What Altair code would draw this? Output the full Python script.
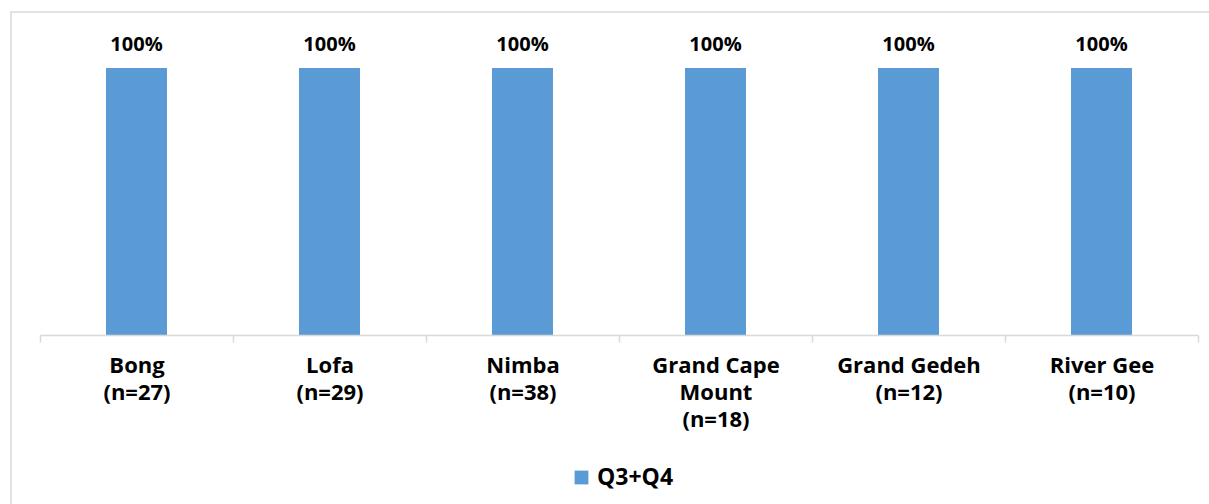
import altair as alt
import pandas as pd

categories = ["Bong|(n=27)", "Lofa|(n=29)", "Nimba|(n=38)", "Grand Cape|Mount|(n=18)", "Grand Gedeh|(n=12)", "River Gee|(n=10)"]
values = [100, 100, 100, 100, 100, 100]
labels = ["100%", "100%", "100%", "100%", "100%", "100%"]
series = "Q3+Q4"

df = pd.DataFrame({"cat": categories, "val": values, "lab": labels, "series": [series] * len(categories)})

FONT = "Open Sans"
BLUE = "#5B9BD5"
GRID = "#D9D9D9"

x = alt.X("cat:N", sort=categories, title=None,
          scale=alt.Scale(paddingInner=0, paddingOuter=0),
          axis=alt.Axis(labelExpr="split(datum.label, '|')", labelAngle=0,
                        labelFont=FONT, labelFontSize=22, labelFontWeight="bold",
                        labelColor="#000000", labelLineHeight=27, labelPadding=13,
                        domainColor=GRID, domainWidth=1.5, tickColor=GRID, tickWidth=1.5,
                        tickSize=7, tickBand="extent", zindex=1))
y = alt.Y("val:Q", title=None, scale=alt.Scale(domain=[0, 100]), axis=None)

frame = alt.Chart(pd.DataFrame({"f": [0]})).mark_rect(
    fill="white", fillOpacity=0, stroke=GRID, strokeWidth=1.5
).encode(x=alt.value(-29), x2=alt.value(1250), y=alt.value(-56), y2=alt.value(500))

bars = alt.Chart(df).mark_bar(color=BLUE, width=alt.RelativeBandSize(0.316)).encode(
    x=x, y=y,
    color=alt.Color("series:N", scale=alt.Scale(domain=[series], range=[BLUE]),
                    legend=alt.Legend(title=None, orient="none", legendX=530, legendY=398,
                                      symbolType="square", symbolSize=190, symbolStrokeWidth=0,
                                      labelFont=FONT, labelFontSize=23, labelFontWeight="bold",
                                      labelColor="#000000", labelOffset=4))
)
text = alt.Chart(df).mark_text(font=FONT, fontSize=20, fontWeight="bold", color="#000000",
                               baseline="bottom", dy=-13).encode(x=x, y=y, text="lab:N")

chart = alt.layer(frame, bars, text).properties(
    width=1158, height=267, autosize=alt.AutoSizeParams(type="none"),
    padding={"left": 40, "top": 68, "right": 11, "bottom": 169},
    background="white"
).configure_view(stroke=None)

chart.save("out.html", embed_options={"renderer": "svg", "actions": False})
